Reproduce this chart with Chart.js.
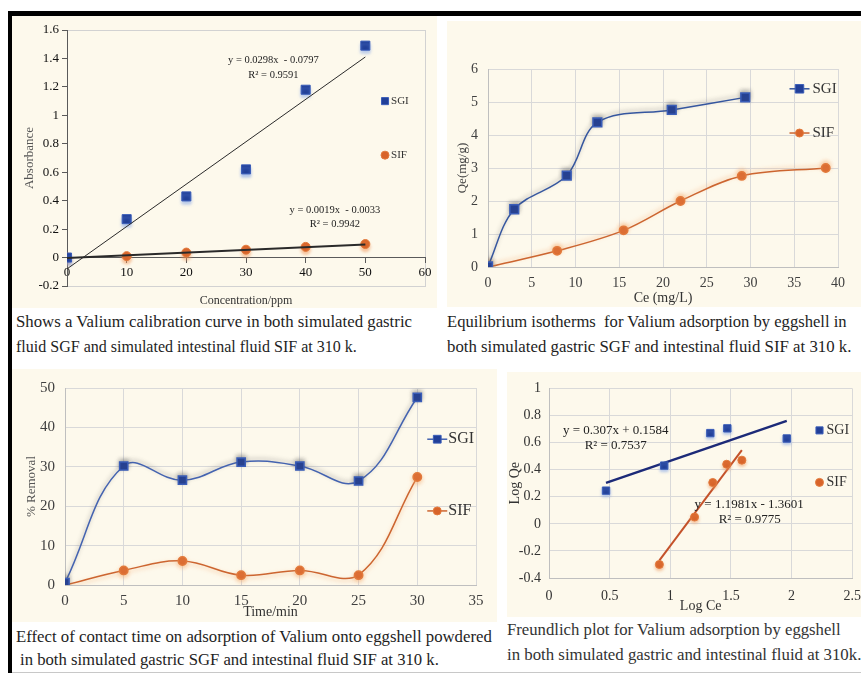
<!DOCTYPE html>
<html>
<head>
<meta charset="utf-8">
<script src="https://cdn.jsdelivr.net/npm/chart.js@4.4.1/dist/chart.umd.min.js"></script>
<style>
  body { margin: 0; width: 861px; height: 673px; background: #fff; position: relative; overflow: hidden; font-family: "Liberation Serif", serif; }
  .bar { position: absolute; background: #000; }
  .panel { position: absolute; background: #fdf9ec; overflow: hidden; }
  .panel canvas { display: block; }
  .cap { position: absolute; font-size: 17px; line-height: 20px; color: #1e1e1e; white-space: pre; transform-origin: 0 50%; }
</style>
</head>
<body>
<div class="bar" style="left:8px;top:11px;width:853px;height:5px"></div>
<div class="bar" style="left:8px;top:11px;width:4px;height:662px"></div>
<div style="position:absolute;left:12px;top:672px;width:849px;height:1px;background:#c8c8c8"></div>

<div class="panel" style="left:12px;top:16px;width:425px;height:292px"><canvas id="cal" width="425" height="292"></canvas></div>
<div class="panel" style="left:447px;top:21px;width:414px;height:286px"><canvas id="iso" width="414" height="286"></canvas></div>
<div class="panel" style="left:12px;top:369px;width:485px;height:253px"><canvas id="time" width="485" height="253"></canvas></div>
<div class="panel" style="left:507px;top:372px;width:354px;height:245px"><canvas id="freu" width="364" height="245"></canvas></div>

<span class="cap" data-w="396" style="left:16px;top:312px">Shows a Valium calibration curve in both simulated gastric</span>
<span class="cap" data-w="341" style="left:16px;top:337px">fluid SGF and simulated intestinal fluid SIF at 310 k.</span>
<span class="cap" data-w="400" style="left:447px;top:312px">Equilibrium isotherms  for Valium adsorption by eggshell in</span>
<span class="cap" data-w="404" style="left:447px;top:337px">both simulated gastric SGF and intestinal fluid SIF at 310 k.</span>
<span class="cap" data-w="476" style="left:16px;top:627px">Effect of contact time on adsorption of Valium onto eggshell powdered</span>
<span class="cap" data-w="419" style="left:20px;top:650px">in both simulated gastric SGF and intestinal fluid SIF at 310 k.</span>
<span class="cap" data-w="334" style="left:507px;top:620px;color:#333">Freundlich plot for Valium adsorption by eggshell</span>
<span class="cap" data-w="354" style="left:507px;top:645px;color:#333">in both simulated gastric and intestinal fluid at 310k.</span>

<script>
// --- calibration curve
const calConc = [0, 10, 20, 30, 40, 50];
const calSGI = [0, 0.27, 0.43, 0.62, 1.18, 1.49];
const calSIF = [0, 0.01, 0.035, 0.055, 0.075, 0.095];
const calFitSGI = [0.0298, -0.0797]; // slope, intercept
const calFitSIF = [0.0019, -0.0033];
const calTicksX = [0, 10, 20, 30, 40, 50, 60];
const calTicksY = [-0.2, 0, 0.2, 0.4, 0.6, 0.8, 1, 1.2, 1.4, 1.6];

// --- equilibrium isotherms
const isoCeSGI = [0, 3, 9, 12.5, 21, 29.4];
const isoQeSGI = [0.02, 1.75, 2.77, 4.38, 4.76, 5.14];
const isoCeSIF = [0, 7.9, 15.5, 22, 29, 38.6];
const isoQeSIF = [0, 0.49, 1.11, 2.0, 2.76, 3.0];
const isoTicksX = [0, 5, 10, 15, 20, 25, 30, 35, 40];
const isoTicksY = [0, 1, 2, 3, 4, 5, 6];

// --- contact time
const timeMin = [0, 5, 10, 15, 20, 25, 30];
const timeSGI = [0.6, 30.2, 26.6, 31.2, 30.2, 26.4, 47.6];
const timeSIF = [0, 3.7, 6.1, 2.5, 3.7, 2.5, 27.4];
const timeTicksX = [0, 5, 10, 15, 20, 25, 30, 35];
const timeTicksY = [0, 10, 20, 30, 40, 50];

// --- Freundlich plot
const frLogCeSGI = [0.47, 0.95, 1.33, 1.47, 1.96];
const frLogQeSGI = [0.245, 0.43, 0.67, 0.705, 0.63];
const frLogCeSIF = [0.91, 1.2, 1.35, 1.465, 1.59];
const frLogQeSIF = [-0.3, 0.05, 0.305, 0.44, 0.47];
const frFitSGI = [0.307, 0.1584];
const frFitSIF = [1.1981, -1.3601];
const frTicksX = [0, 0.5, 1, 1.5, 2, 2.5];
const frTicksY = [-0.4, -0.2, 0, 0.2, 0.4, 0.6, 0.8, 1];

// equation labels (placed in data space)
const calNotes = [
  { x: 34.6, y: 1.385, text: 'y = 0.0298x  - 0.0797' },
  { x: 34.6, y: 1.28, text: 'R² = 0.9591' },
  { x: 44.9, y: 0.335, text: 'y = 0.0019x  - 0.0033' },
  { x: 44.9, y: 0.235, text: 'R² = 0.9942' }
];
const frNotes = [
  { x: 0.55, y: 0.689, text: 'y = 0.307x + 0.1584' },
  { x: 0.55, y: 0.581, text: 'R² = 0.7537' },
  { x: 1.65, y: 0.139, text: 'y = 1.1981x - 1.3601' },
  { x: 1.655, y: 0.031, text: 'R² = 0.9775' }
];

const SERIF = 'Liberation Serif';
const blueFill = '#213f98', blueEdge = '#3a5db8', blueLine = '#35569f';
const orangeFill = '#d8642a', orangeEdge = '#e27a3c', orangeLine = '#cc6530';
const gridCol = '#d9d9d9';

const pts = (xs, ys) => xs.map((x, i) => ({ x, y: ys[i] }));
const fitLine = (fit, xs) => {
  const a = Math.min(...xs), b = Math.max(...xs);
  return [{ x: a, y: fit[0] * a + fit[1] }, { x: b, y: fit[0] * b + fit[1] }];
};
const fixTicks = list => s => { s.ticks = list.map(v => ({ value: v })); };

// soft shadow under marks, like the Excel glow
const glow = {
  id: 'glow',
  beforeDatasetDraw(chart, args) {
    const g = chart.data.datasets[args.index].glow;
    if (!g) return;
    const c = chart.ctx;
    c.save();
    c.shadowColor = g.color; c.shadowBlur = g.blur; c.shadowOffsetX = 0; c.shadowOffsetY = g.dy;
  },
  afterDatasetDraw(chart, args) {
    if (chart.data.datasets[args.index].glow) chart.ctx.restore();
  }
};

const frame = color => ({
  id: 'frame',
  beforeDraw(chart) {
    const { ctx, chartArea: a } = chart;
    ctx.save();
    ctx.strokeStyle = color; ctx.lineWidth = 1;
    ctx.strokeRect(Math.round(a.left) + 0.5, Math.round(a.top) + 0.5, Math.round(a.width), Math.round(a.height));
    ctx.restore();
  }
});

const notes = (items, font, color) => ({
  id: 'notes',
  afterDatasetsDraw(chart) {
    const { ctx, scales: { x, y } } = chart;
    ctx.save();
    ctx.font = font; ctx.fillStyle = color; ctx.textAlign = 'center'; ctx.textBaseline = 'middle';
    items.forEach(n => ctx.fillText(n.text, x.getPixelForValue(n.x), y.getPixelForValue(n.y)));
    ctx.restore();
  }
});

// legend drawn inside the plot area, like the source figures
const inLegend = (items, font, color) => ({
  id: 'inLegend',
  afterDatasetsDraw(chart) {
    const { ctx, scales: { x, y } } = chart;
    ctx.save();
    items.forEach(it => {
      const ds = chart.data.datasets[it.ds];
      const px = x.getPixelForValue(it.x), py = y.getPixelForValue(it.y);
      if (it.line) {
        ctx.strokeStyle = ds.borderColor; ctx.lineWidth = ds.borderWidth;
        ctx.beginPath(); ctx.moveTo(px - it.line, py); ctx.lineTo(px + it.line, py); ctx.stroke();
      }
      ctx.fillStyle = ds.pointBackgroundColor; ctx.strokeStyle = ds.pointBorderColor; ctx.lineWidth = 1;
      Chart.helpers.drawPoint(ctx, { pointStyle: ds.pointStyle, radius: it.r, borderWidth: 1, rotation: 0 }, px, py);
      ctx.font = font; ctx.fillStyle = color; ctx.textAlign = 'left'; ctx.textBaseline = 'middle';
      ctx.fillText(ds.label, px + it.tx, py);
    });
    ctx.restore();
  }
});

const base = {
  responsive: false,
  animation: false,
  events: [],
  plugins: { legend: { display: false }, tooltip: { enabled: false } }
};

// Calibration curve
new Chart(document.getElementById('cal'), {
  type: 'scatter',
  data: {
    datasets: [
      { label: 'fit SGI', data: fitLine(calFitSGI, calConc), showLine: true, pointRadius: 0, borderColor: '#2a2a2a', borderWidth: 1 },
      { label: 'fit SIF', data: fitLine(calFitSIF, calConc), showLine: true, pointRadius: 0, borderColor: '#2a2a2a', borderWidth: 2 },
      { label: 'SGI', data: pts(calConc, calSGI), pointStyle: 'rect', pointRadius: 6.4,
        pointBackgroundColor: blueFill, pointBorderColor: blueEdge, borderWidth: 1,
        glow: { color: 'rgba(110,150,230,0.55)', blur: 3, dy: 3 } },
      { label: 'SIF', data: pts(calConc, calSIF), pointStyle: 'circle', pointRadius: 4.5,
        pointBackgroundColor: orangeFill, pointBorderColor: orangeEdge, borderWidth: 1,
        glow: { color: 'rgba(240,150,90,0.55)', blur: 3, dy: 3 } }
    ]
  },
  options: {
    ...base,
    layout: { padding: { left: 6, top: 14, right: 12, bottom: 22 } },
    scales: {
      x: {
        type: 'linear', min: 0, max: 60, position: { y: 0 },
        afterBuildTicks: fixTicks(calTicksX),
        ticks: { font: { family: SERIF, size: 13 }, color: '#111', padding: 2, callback: v => String(v) },
        grid: { drawOnChartArea: false, tickLength: 5, color: '#5a5a5a' },
        border: { color: '#5a5a5a' },
        title: { display: true, text: 'Concentration/ppm', font: { family: SERIF, size: 12 }, color: '#333', padding: { top: 11, bottom: 0 } }
      },
      y: {
        min: -0.2, max: 1.6,
        afterBuildTicks: fixTicks(calTicksY),
        afterFit: s => { s.width = 49; },
        ticks: { font: { family: SERIF, size: 13 }, color: '#111', padding: 3, callback: v => String(v) },
        grid: { drawOnChartArea: false, tickLength: 5, color: '#5a5a5a' },
        border: { color: '#5a5a5a' },
        title: { display: true, text: 'Absorbance', font: { family: SERIF, size: 13 }, color: '#555', padding: { top: 4, bottom: 0 } }
      }
    }
  },
  plugins: [frame('#d2d2d2'), glow, notes(calNotes, '10.5px "Liberation Serif"', '#222'),
    inLegend([{ ds: 2, x: 53.3, y: 1.10, r: 5, tx: 6 }, { ds: 3, x: 53.3, y: 0.72, r: 4, tx: 6 }], '11px "Liberation Serif"', '#333')]
});

// Equilibrium isotherms
new Chart(document.getElementById('iso'), {
  type: 'scatter',
  data: {
    datasets: [
      { label: 'SGI', data: pts(isoCeSGI, isoQeSGI), showLine: true, tension: 0.35,
        borderColor: blueLine, borderWidth: 1.5, pointStyle: 'rect', pointRadius: 6.2,
        pointBackgroundColor: blueFill, pointBorderColor: blueEdge,
        glow: { color: 'rgba(90,90,90,0.45)', blur: 4, dy: -2 } },
      { label: 'SIF', data: pts(isoCeSIF, isoQeSIF), showLine: true, tension: 0.35,
        borderColor: orangeLine, borderWidth: 1.5, pointStyle: 'circle', pointRadius: 4.2,
        pointBackgroundColor: orangeFill, pointBorderColor: orangeEdge,
        glow: { color: 'rgba(245,170,110,0.6)', blur: 4, dy: -2 } }
    ]
  },
  options: {
    ...base,
    layout: { padding: { left: 4, top: 48, right: 23, bottom: 0 } },
    scales: {
      x: {
        type: 'linear', min: 0, max: 40,
        afterBuildTicks: fixTicks(isoTicksX),
        afterFit: s => { s.height = 40; },
        ticks: { font: { family: SERIF, size: 14 }, color: '#404040', padding: 8, callback: v => String(v) },
        grid: { color: gridCol, drawTicks: false },
        border: { color: '#bfbfbf' },
        title: { display: true, text: 'Ce (mg/L)', font: { family: SERIF, size: 14 }, color: '#333', padding: 0 }
      },
      y: {
        min: 0, max: 6,
        afterBuildTicks: fixTicks(isoTicksY),
        afterFit: s => { s.width = 37; },
        ticks: { font: { family: SERIF, size: 14 }, color: '#404040', padding: 10, callback: v => String(v) },
        grid: { color: gridCol, drawTicks: false },
        border: { color: '#bfbfbf' },
        title: { display: true, text: 'Qe(mg/g)', font: { family: SERIF, size: 13 }, color: '#444', padding: { top: 4, bottom: 0 } }
      }
    }
  },
  plugins: [glow, inLegend([{ ds: 0, x: 35.6, y: 5.4, r: 6, tx: 13, line: 10 }, { ds: 1, x: 35.6, y: 4.06, r: 4, tx: 13, line: 10 }],
    '15px "Liberation Serif"', '#333')]
});

// Contact time
new Chart(document.getElementById('time'), {
  type: 'scatter',
  data: {
    datasets: [
      { label: 'SGI', data: pts(timeMin, timeSGI), showLine: true, tension: 0.4,
        borderColor: '#4463b0', borderWidth: 1.5, pointStyle: 'rect', pointRadius: 5.8,
        pointBackgroundColor: blueFill, pointBorderColor: blueEdge,
        glow: { color: 'rgba(90,90,90,0.45)', blur: 4, dy: -2 } },
      { label: 'SIF', data: pts(timeMin, timeSIF), showLine: true, tension: 0.4,
        borderColor: orangeLine, borderWidth: 1.5, pointStyle: 'circle', pointRadius: 4.2,
        pointBackgroundColor: orangeFill, pointBorderColor: orangeEdge,
        glow: { color: 'rgba(245,170,110,0.6)', blur: 4, dy: 2 } }
    ]
  },
  options: {
    ...base,
    layout: { padding: { left: 5, top: 10, right: 21, bottom: 0 } },
    scales: {
      x: {
        type: 'linear', min: 0, max: 35,
        afterBuildTicks: fixTicks(timeTicksX),
        afterFit: s => { s.height = 37; },
        ticks: { font: { family: SERIF, size: 15 }, color: '#404040', padding: 7, callback: v => String(v) },
        grid: { color: gridCol, drawTicks: false },
        border: { color: '#bfbfbf' },
        title: { display: true, text: 'Time/min', font: { family: SERIF, size: 14 }, color: '#333', padding: { top: 0, bottom: 1 } }
      },
      y: {
        min: 0, max: 50,
        afterBuildTicks: fixTicks(timeTicksY),
        afterFit: s => { s.width = 48; },
        ticks: { font: { family: SERIF, size: 15 }, color: '#404040', padding: 10, callback: v => String(v) },
        grid: { color: gridCol, drawTicks: false },
        border: { color: '#bfbfbf' },
        title: { display: true, text: '% Removal', font: { family: SERIF, size: 13 }, color: '#555', padding: { top: 7, bottom: 0 } }
      }
    }
  },
  plugins: [glow, inLegend([{ ds: 0, x: 31.7, y: 37, r: 5.5, tx: 11, line: 10 }, { ds: 1, x: 31.7, y: 18.8, r: 4, tx: 11, line: 10 }],
    '16px "Liberation Serif"', '#333')]
});

// Freundlich plot
new Chart(document.getElementById('freu'), {
  type: 'scatter',
  data: {
    datasets: [
      { label: 'SGI', data: pts(frLogCeSGI, frLogQeSGI), pointStyle: 'rect', pointRadius: 5.2,
        pointBackgroundColor: blueFill, pointBorderColor: blueEdge, borderWidth: 1,
        glow: { color: 'rgba(110,150,230,0.5)', blur: 3, dy: 2 } },
      { label: 'SIF', data: pts(frLogCeSIF, frLogQeSIF), pointStyle: 'circle', pointRadius: 4,
        pointBackgroundColor: orangeFill, pointBorderColor: orangeEdge, borderWidth: 1,
        glow: { color: 'rgba(240,150,90,0.5)', blur: 3, dy: 2 } },
      { label: 'fit SGI', data: fitLine(frFitSGI, frLogCeSGI), showLine: true, pointRadius: 0, borderColor: '#1c2a78', borderWidth: 2.5 },
      { label: 'fit SIF', data: fitLine(frFitSIF, frLogCeSIF), showLine: true, pointRadius: 0, borderColor: '#c4522a', borderWidth: 2 }
    ]
  },
  options: {
    ...base,
    layout: { padding: { left: 0, top: 11, right: 15, bottom: 0 } },
    scales: {
      x: {
        type: 'linear', min: 0, max: 2.5,
        afterBuildTicks: fixTicks(frTicksX),
        afterFit: s => { s.height = 39; },
        ticks: { font: { family: SERIF, size: 14 }, color: '#333', padding: 10, callback: v => String(v) },
        grid: { color: gridCol, drawTicks: false },
        border: { color: '#bfbfbf' },
        title: { display: true, text: 'Log Ce', font: { family: SERIF, size: 14 }, color: '#333', padding: { top: 0, bottom: 2 } }
      },
      y: {
        min: -0.4, max: 1,
        afterBuildTicks: fixTicks(frTicksY),
        afterFit: s => { s.width = 42; },
        ticks: { font: { family: SERIF, size: 14 }, color: '#333', padding: 8, callback: v => String(v) },
        grid: { color: gridCol, drawTicks: false },
        border: { color: '#bfbfbf' },
        title: { display: true, text: 'Log Qe', font: { family: SERIF, size: 14 }, color: '#333', padding: 0 }
      }
    }
  },
  plugins: [glow, notes(frNotes, '13px "Liberation Serif"', '#222'),
    inLegend([{ ds: 0, x: 2.23, y: 0.69, r: 5, tx: 7 }, { ds: 1, x: 2.23, y: 0.306, r: 4, tx: 7 }], '14px "Liberation Serif"', '#333')]
});

// squeeze captions to the widths of the source figure
document.querySelectorAll('.cap').forEach(el => {
  el.style.transform = 'scaleX(' + (+el.dataset.w / el.offsetWidth) + ')';
});
</script>
</body>
</html>
